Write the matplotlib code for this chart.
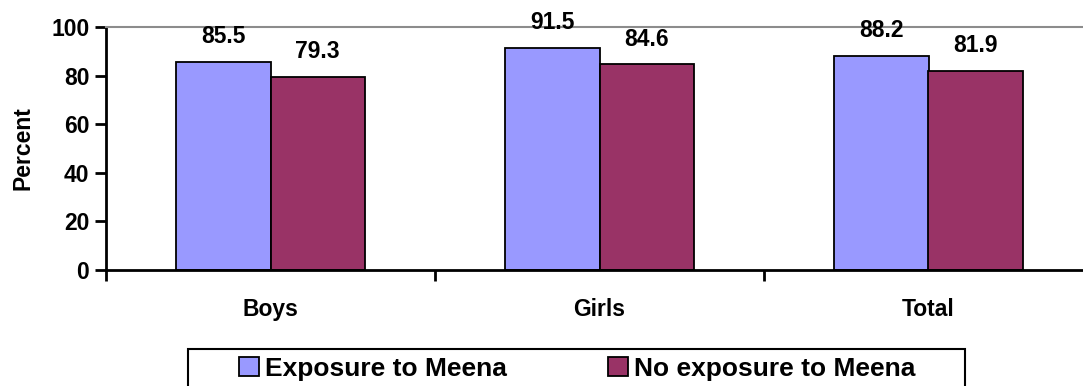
import matplotlib
matplotlib.use('Agg')
import matplotlib.pyplot as plt
from matplotlib.patches import Rectangle
import numpy as np

# Data
categories = ['Boys', 'Girls', 'Total']
exposure = [85.5, 91.5, 88.2]
no_exposure = [79.3, 84.6, 81.9]
series_names = ['Exposure to Meena', 'No exposure to Meena']
y_ticks = [0, 20, 40, 60, 80, 100]

plt.rcParams['font.family'] = ['Liberation Sans', 'DejaVu Sans']
plt.rcParams['font.weight'] = 'bold'

W, H = 1083, 386
fig = plt.figure(figsize=(W / 100, H / 100), dpi=100)
ax = fig.add_axes([106 / W, 1 - 270 / H, (1093 - 106) / W, (270 - 27) / H])

x = np.arange(len(categories))
bw = 0.286
b1 = ax.bar(x - bw / 2, exposure, bw, color='#9999FF', edgecolor='black',
            linewidth=1.3, label=series_names[0])
b2 = ax.bar(x + bw / 2, no_exposure, bw, color='#993366', edgecolor='black',
            linewidth=1.3, label=series_names[1])

for bars, vals in [(b1, exposure), (b2, no_exposure)]:
    for rect, v in zip(bars, vals):
        ax.annotate(f'{v:.1f}', (rect.get_x() + rect.get_width() / 2, v),
                    xytext=(0, 10), textcoords='offset points',
                    ha='center', va='bottom', fontsize=16.5, fontweight='bold')

ax.set_xlim(-0.5, 2.5)
ax.set_ylim(0, 100)
ax.set_yticks(y_ticks)
ax.set_xticks(x)
ax.set_xticklabels(categories)
ax.set_xticks([-0.5, 0.5, 1.5, 2.5], minor=True)
ax.tick_params(axis='x', which='major', length=0, pad=20, labelsize=16.5)
ax.tick_params(axis='x', which='minor', length=8, width=2, direction='out')
ax.tick_params(axis='y', length=8, width=2, pad=4, labelsize=16.5)
for lab in ax.get_xticklabels() + ax.get_yticklabels():
    lab.set_fontweight('bold')

ax.set_ylabel('Percent', fontsize=16.5, fontweight='bold', labelpad=12)

ax.spines['left'].set_linewidth(2)
ax.spines['bottom'].set_linewidth(2)
ax.spines['top'].set_color('#8c8c8c')
ax.spines['top'].set_linewidth(1.5)
ax.spines['right'].set_visible(False)

# Legend with a separate outer box
leg = fig.legend(handles=[b1, b2], loc='center left',
                 bbox_to_anchor=(239 / W, 1 - 369 / H), ncol=2, frameon=False,
                 fontsize=19, handlelength=0.76, handleheight=0.72,
                 handletextpad=0.22, columnspacing=3.85, borderpad=0,
                 borderaxespad=0)
for t in leg.get_texts():
    t.set_fontweight('bold')
fig.patches.append(Rectangle((188 / W, 1 - 392 / H), (965 - 188) / W, 43 / H,
                             transform=fig.transFigure, fill=False,
                             edgecolor='black', linewidth=1.5))

fig.savefig('out.png', dpi=100)
